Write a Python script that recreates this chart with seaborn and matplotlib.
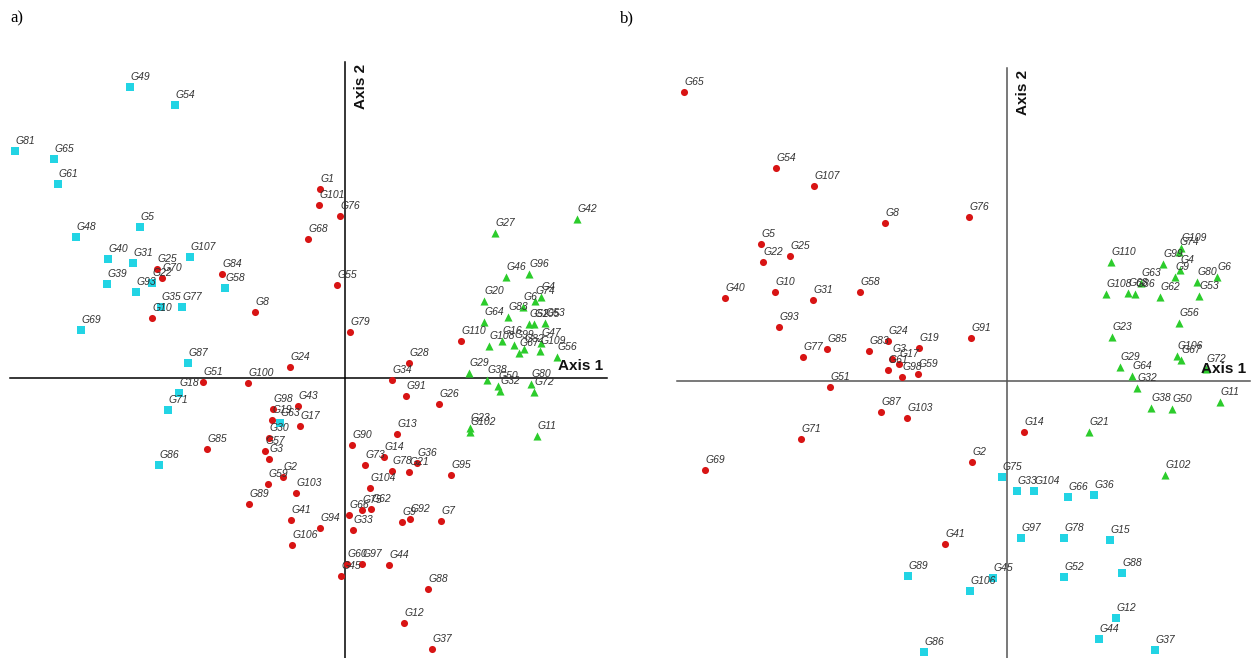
import pandas as pd
import matplotlib
matplotlib.use('Agg')
import matplotlib.pyplot as plt
import seaborn as sns

# panel a) scores
a_red_lab = ['G1', 'G101', 'G76', 'G68', 'G84', 'G55', 'G8', 'G79', 'G25', 'G70', 'G10', 'G24', 'G51', 'G100',
             'G85', 'G98', 'G43', 'G19', 'G17', 'G30', 'G57', 'G3', 'G2', 'G59', 'G103', 'G89', 'G41', 'G94',
             'G106', 'G90', 'G34', 'G28', 'G91', 'G26', 'G110', 'G13', 'G73', 'G14', 'G78', 'G36', 'G21', 'G95',
             'G104', 'G66', 'G75', 'G62', 'G33', 'G9', 'G92', 'G7', 'G60', 'G97', 'G45', 'G44', 'G88', 'G12', 'G37']
a_red_x = [-0.25, -0.26, -0.05, -0.37, -1.23, -0.08, -0.90, 0.05, -1.88, -1.83, -1.93, -0.55, -1.42, -0.97,
           -1.38, -0.72, -0.47, -0.73, -0.45, -0.76, -0.80, -0.76, -0.62, -0.77, -0.49, -0.96, -0.54, -0.25,
           -0.53, 0.07, 0.47, 0.64, 0.61, 0.94, 1.16, 0.52, 0.20, 0.39, 0.47, 0.72, 0.64, 1.06,
           0.25, 0.04, 0.17, 0.26, 0.08, 0.57, 0.65, 0.96, 0.02, 0.17, -0.04, 0.44, 0.83, 0.59, 0.87]
a_red_y = [1.89, 1.73, 1.62, 1.39, 1.04, 0.93, 0.66, 0.46, 1.09, 1.00, 0.60, 0.11, -0.04, -0.05,
           -0.71, -0.31, -0.28, -0.42, -0.48, -0.60, -0.73, -0.81, -0.99, -1.06, -1.15, -1.26, -1.42, -1.50,
           -1.67, -0.67, -0.02, 0.15, -0.18, -0.26, 0.37, -0.56, -0.87, -0.79, -0.93, -0.85, -0.94, -0.97,
           -1.10, -1.37, -1.32, -1.31, -1.52, -1.44, -1.41, -1.43, -1.86, -1.86, -1.98, -1.87, -2.11, -2.45, -2.71]

a_cyan_lab = ['G49', 'G54', 'G81', 'G65', 'G61', 'G5', 'G48', 'G40', 'G31', 'G107', 'G39', 'G93', 'G22',
              'G35', 'G77', 'G69', 'G58', 'G87', 'G18', 'G71', 'G86', 'G63']
a_cyan_x = [-2.15, -1.70, -3.30, -2.91, -2.87, -2.05, -2.69, -2.37, -2.12, -1.55, -2.38, -2.09, -1.93,
            -1.84, -1.63, -2.64, -1.20, -1.57, -1.66, -1.77, -1.86, -0.65]
a_cyan_y = [2.91, 2.73, 2.27, 2.19, 1.94, 1.51, 1.41, 1.19, 1.15, 1.21, 0.94, 0.86, 0.95,
            0.71, 0.71, 0.48, 0.90, 0.15, -0.15, -0.32, -0.87, -0.45]

a_green_lab = ['G42', 'G27', 'G46', 'G96', 'G20', 'G74', 'G4', 'G64', 'G83', 'G6', 'G53', 'G105', 'G52',
               'G47', 'G16', 'G108', 'G99', 'G67', 'G82', 'G109', 'G56', 'G29', 'G38', 'G50', 'G32', 'G80',
               'G72', 'G23', 'G102', 'G11']
a_green_x = [2.32, 1.50, 1.61, 1.84, 1.39, 1.90, 1.96, 1.39, 1.63, 1.78, 2.00, 1.89, 1.84,
             1.96, 1.57, 1.44, 1.69, 1.74, 1.79, 1.95, 2.12, 1.24, 1.42, 1.53, 1.55, 1.86,
             1.89, 1.25, 1.25, 1.92]
a_green_y = [1.59, 1.45, 1.01, 1.04, 0.77, 0.77, 0.81, 0.56, 0.61, 0.71, 0.55, 0.54, 0.54,
             0.35, 0.37, 0.32, 0.33, 0.25, 0.29, 0.27, 0.21, 0.05, -0.02, -0.08, -0.13, -0.06,
             -0.14, -0.50, -0.54, -0.58]

# panel b)
b_red_lab = ['G65', 'G54', 'G107', 'G5', 'G22', 'G25', 'G40', 'G10', 'G31', 'G58', 'G93', 'G77', 'G85',
             'G83', 'G8', 'G76', 'G24', 'G19', 'G91', 'G3', 'G17', 'G61', 'G98', 'G59', 'G87', 'G103',
             'G51', 'G71', 'G69', 'G14', 'G2', 'G41']
b_red_x = [-3.23, -2.31, -1.93, -2.46, -2.44, -2.17, -2.82, -2.32, -1.94, -1.47, -2.28, -2.04, -1.80,
           -1.38, -1.22, -0.38, -1.19, -0.88, -0.36, -1.15, -1.08, -1.19, -1.05, -0.89, -1.26, -1.00,
           -1.77, -2.06, -3.02, 0.17, -0.35, -0.62]
b_red_y = [2.89, 2.13, 1.95, 1.37, 1.19, 1.25, 0.83, 0.89, 0.81, 0.89, 0.54, 0.24, 0.32,
           0.30, 1.58, 1.64, 0.40, 0.33, 0.43, 0.22, 0.17, 0.11, 0.04, 0.07, -0.31, -0.37,
           -0.06, -0.58, -0.89, -0.51, -0.81, -1.63]

b_cyan_lab = ['G75', 'G33', 'G104', 'G97', 'G89', 'G45', 'G106', 'G86', 'G66', 'G36', 'G78', 'G15',
              'G52', 'G88', 'G12', 'G44', 'G37']
b_cyan_x = [-0.05, 0.10, 0.27, 0.14, -0.99, -0.14, -0.37, -0.83, 0.61, 0.87, 0.57, 1.03,
            0.57, 1.15, 1.09, 0.92, 1.48]
b_cyan_y = [-0.96, -1.10, -1.10, -1.57, -1.95, -1.97, -2.10, -2.71, -1.16, -1.14, -1.57, -1.59,
            -1.96, -1.92, -2.37, -2.58, -2.69]

b_green_lab = ['G21', 'G102', 'G110', 'G108', 'G68', 'G86', 'G63', 'G62', 'G99', 'G74', 'G109', 'G4',
               'G9', 'G80', 'G6', 'G53', 'G56', 'G23', 'G106', 'G67', 'G72', 'G29', 'G64', 'G32',
               'G38', 'G50', 'G11']
b_green_x = [0.82, 1.58, 1.04, 0.99, 1.21, 1.28, 1.34, 1.53, 1.56, 1.72, 1.74, 1.73,
             1.68, 1.90, 2.10, 1.92, 1.72, 1.05, 1.70, 1.74, 1.99, 1.13, 1.25, 1.30,
             1.44, 1.65, 2.13]
b_green_y = [-0.51, -0.94, 1.19, 0.87, 0.88, 0.87, 0.98, 0.84, 1.17, 1.29, 1.33, 1.11,
             1.04, 0.99, 1.04, 0.85, 0.58, 0.44, 0.25, 0.21, 0.12, 0.14, 0.05, -0.07,
             -0.27, -0.28, -0.21]


def make_df(red, cyan, green):
    parts = []
    for grp, (lab, x, y) in zip(['red', 'cyan', 'green'], [red, cyan, green]):
        parts.append(pd.DataFrame({'label': lab, 'x': x, 'y': y, 'group': grp}))
    return pd.concat(parts, ignore_index=True)


df_a = make_df((a_red_lab, a_red_x, a_red_y), (a_cyan_lab, a_cyan_x, a_cyan_y),
               (a_green_lab, a_green_x, a_green_y))
df_b = make_df((b_red_lab, b_red_x, b_red_y), (b_cyan_lab, b_cyan_x, b_cyan_y),
               (b_green_lab, b_green_x, b_green_y))

palette = {'red': '#d81414', 'cyan': '#22d4e4', 'green': '#2ccc2c'}
markers = {'red': 'o', 'cyan': 's', 'green': '^'}
sizes = {'red': 26, 'cyan': 26, 'green': 34}

fig = plt.figure(figsize=(12.52, 6.58), dpi=100)
W, H = 1252, 658
ax_a = fig.add_axes([0 / W, 0, 620 / W, 598 / H])
ax_b = fig.add_axes([675 / W, 0, 577 / W, 598 / H])

panels = [
    (ax_a, df_a, (-3.45, 2.75), (-2.80, 3.18), (-3.35, 2.62), 3.16, 'black'),
    (ax_b, df_b, (-3.32, 2.45), (-2.77, 3.21), (-3.30, 2.43), 3.13, '#555555'),
]

for ax, df, xl, yl, hline, vtop, lc in panels:
    ax.plot(hline, [0, 0], color=lc, lw=1.1, zorder=1)
    ax.plot([0, 0], [yl[0], vtop], color=lc, lw=1.1, zorder=1)
    for grp in ['red', 'cyan', 'green']:
        sub = df[df['group'] == grp]
        sns.scatterplot(data=sub, x='x', y='y', color=palette[grp], marker=markers[grp],
                        s=sizes[grp], linewidth=0, ax=ax, zorder=3, legend=False)
    for _, r in df.iterrows():
        ax.annotate(r['label'], (r['x'], r['y']), xytext=(0.3, 5), textcoords='offset points',
                    ha='left', va='baseline', fontsize=7.5, style='italic',
                    family='Liberation Sans', color='#333333', zorder=4)
    ax.text(hline[1] - 0.04, 0.05, 'Axis 1', ha='right', va='bottom', fontsize=11,
            fontweight='bold', family='Liberation Sans', color='#111111', zorder=5)
    ax.text(0.09, vtop - 0.02, 'Axis 2', ha='left', va='top', rotation=90, fontsize=11,
            fontweight='bold', family='Liberation Sans', color='#111111', zorder=5)
    ax.set_xlim(xl)
    ax.set_ylim(yl)
    ax.set_axis_off()

fig.text(10 / W, 1 - 18 / H, 'a)', ha='left', va='center', fontsize=12, family='Liberation Serif')
fig.text(620 / W, 1 - 18 / H, 'b)', ha='left', va='center', fontsize=12, family='Liberation Serif')

fig.savefig('out.png', dpi=100, facecolor='white')
